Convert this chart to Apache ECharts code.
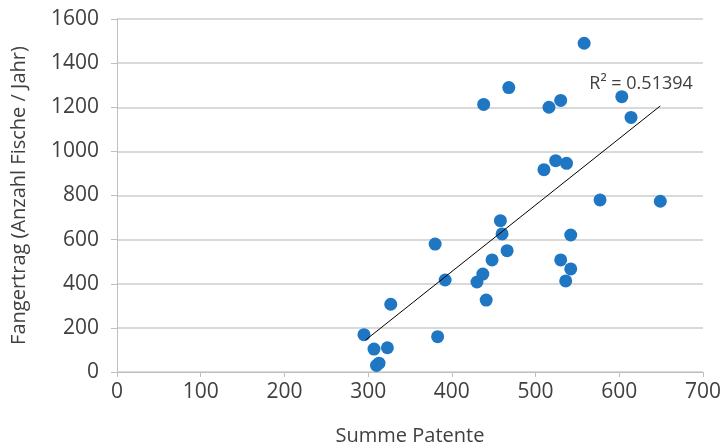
<!DOCTYPE html>
<html>
<head>
<meta charset="utf-8">
<script src="https://cdn.jsdelivr.net/npm/echarts@6/dist/echarts.min.js"></script>
<style>
  html, body { margin: 0; padding: 0; background: #fff; }
  #chart { width: 724px; height: 446px; }
</style>
</head>
<body>
<div id="chart"></div>
<script>
// Summe Patente (x) vs. Fangertrag (y)
const patente = [558, 468, 438, 516, 530, 603, 614, 510, 524, 537, 577, 649,
  458, 460, 542, 380, 466, 448, 530, 542, 437, 392, 430, 536, 441, 327, 295,
  383, 307, 323, 310, 313]
const fangertrag = [1490, 1289, 1213, 1200, 1231, 1248, 1154, 917, 958, 946, 780, 774,
  686, 626, 621, 580, 550, 508, 508, 467, 444, 417, 408, 413, 326, 307, 169,
  160, 104, 110, 30, 40]

// linear trend, endpoints
const trendX = [297, 649]
const trendY = [145, 1206]
const r2Text = 'R² = 0.51394'

const xTicks = [0, 100, 200, 300, 400, 500, 600, 700]
const yTicks = [0, 200, 400, 600, 800, 1000, 1200, 1400, 1600]

const textColor = '#404040'
const font = '"Open Sans", sans-serif'

let chart = echarts.init(document.getElementById('chart'))

let points = patente.map((x, i) => [x, fangertrag[i]])
let trend = trendX.map((x, i) => [x, trendY[i]])

chart.setOption({
  animation: false,
  grid: { left: 117, right: 21, top: 19, bottom: 74, containLabel: false, outerBoundsMode: 'none' },
  xAxis: {
    type: 'value',
    min: xTicks[0],
    max: xTicks[xTicks.length - 1],
    interval: 100,
    name: 'Summe Patente',
    nameLocation: 'middle',
    nameGap: 54,
    nameTextStyle: { color: textColor, fontSize: 20, fontFamily: font },
    axisLine: { show: true, lineStyle: { color: '#bfbfbf', width: 1 } },
    axisTick: { show: true, length: 5, lineStyle: { color: '#bfbfbf' } },
    axisLabel: { color: textColor, fontSize: 21, fontFamily: font, margin: 10, formatter: v => String(v) },
    splitLine: { show: false }
  },
  yAxis: {
    type: 'value',
    min: yTicks[0],
    max: yTicks[yTicks.length - 1],
    interval: 200,
    name: 'Fangertrag (Anzahl Fische / Jahr)',
    nameLocation: 'middle',
    nameGap: 88,
    nameTextStyle: { color: textColor, fontSize: 20, fontFamily: font },
    axisLine: { show: true, lineStyle: { color: '#bfbfbf', width: 1 } },
    axisTick: { show: true, length: 6, lineStyle: { color: '#bfbfbf' } },
    axisLabel: { color: textColor, fontSize: 21, fontFamily: font, margin: 18, formatter: v => String(v) },
    splitLine: { show: true, lineStyle: { color: '#cccccc', width: 1.5 } }
  },
  series: [
    {
      type: 'line',
      data: trend,
      symbol: 'none',
      lineStyle: { color: '#000', width: 1 },
      silent: true,
      z: 3,
      endLabel: {
        show: true,
        formatter: r2Text,
        color: textColor,
        fontSize: 18,
        fontFamily: font,
        offset: [-79, -22]
      }
    },
    {
      type: 'scatter',
      data: points,
      symbolSize: 13,
      itemStyle: { color: '#1f77c4', opacity: 1 },
      z: 2
    }
  ]
})
</script>
</body>
</html>
